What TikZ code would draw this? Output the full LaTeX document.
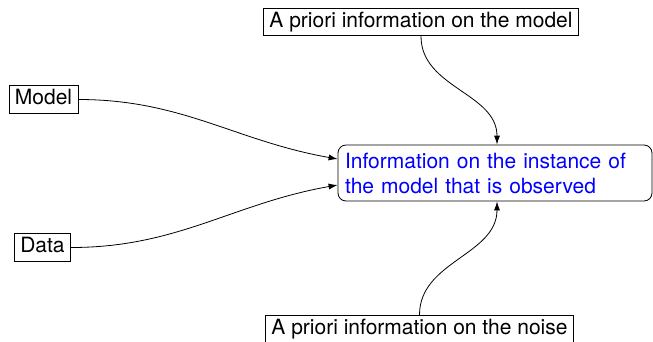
\documentclass[tikz,border=0pt]{standalone}
\usepackage{fontspec}
\setmainfont{TeX Gyre Heros}
\usetikzlibrary{arrows.meta}
\begin{document}
\begin{tikzpicture}[x=1pt,y=1pt,
  font=\fontsize{21}{25}\selectfont,
  box/.style={draw, line width=0.8pt, inner xsep=6pt, inner ysep=4pt,
    text height=15pt, text depth=4.5pt},
  infobox/.style={draw, line width=0.8pt, rounded corners=8pt, align=left,
    text=blue, inner xsep=7pt, inner ysep=4pt, text width=300pt, minimum height=56pt},
  link/.style={line width=0.8pt, -{Latex[length=9pt,width=6pt]}}]
  \useasboundingbox (0,0) rectangle (653,-341);
  \node[box] (prior) at (421,-22) {A priori information on the model};
  \node[box] (model) at (43.5,-99.5) {Model};
  \node[box] (data) at (42.5,-247.5) {Data};
  \node[infobox] (info) at (495,-173) {Information on the instance of\\the model that is observed};
  \node[box] (noise) at (419.5,-329) {A priori information on the noise};
  \draw[link] (model.east) to[out=0,in=170] ([yshift=14pt]info.west);
  \draw[link] (data.east) to[out=0,in=190] ([yshift=-12pt]info.west);
  \draw[link] (prior.south) to[out=-90,in=90] ([xshift=2pt]info.north);
  \draw[link] (noise.north) to[out=90,in=-90] ([xshift=2pt]info.south);
\end{tikzpicture}
\end{document}
